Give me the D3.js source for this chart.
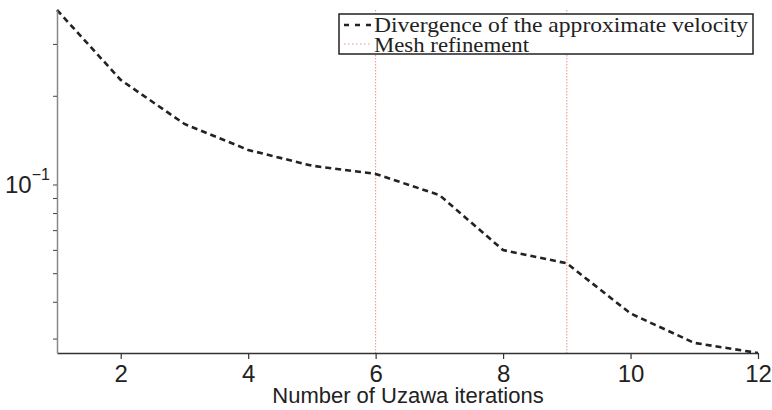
<!DOCTYPE html>
<html>
<head>
<meta charset="utf-8">
<script src="https://cdn.jsdelivr.net/npm/d3@7"></script>
<style>
  body { margin: 0; background: #fff; }
  svg { display: block; }
</style>
</head>
<body>
<div id="chart"></div>
<script>
// iterations and divergence values
const iterations = [1, 2, 3, 4, 5, 6, 7, 8, 9, 10, 11, 12];
const divergence = [0.391, 0.2264, 0.1605, 0.131, 0.1158, 0.1086, 0.0921, 0.0599, 0.054, 0.0365, 0.029, 0.0268];
const refinementIters = [6, 9];
const xTicks = [2, 4, 6, 8, 10, 12];
const yTicks = [0.03, 0.04, 0.05, 0.06, 0.07, 0.08, 0.09, 0.1, 0.2, 0.3];
const legendLabels = ["Divergence of the approximate velocity", "Mesh refinement"];

const width = 772, height = 410;
const margin = { top: 10, right: 14, bottom: 57, left: 57 };
const sans = "'Liberation Sans', Arial, Helvetica, sans-serif";
const serif = "'Liberation Serif', 'Times New Roman', serif";

const svg = d3.select("#chart").append("svg")
  .attr("width", width)
  .attr("height", height);

const x = d3.scaleLinear()
  .domain([1, 12])
  .range([margin.left, width - margin.right]);

const y = d3.scaleLog()
  .domain([d3.min(divergence), d3.max(divergence)])
  .range([height - margin.bottom, margin.top]);

// mesh refinement lines
svg.selectAll(".refine")
  .data(refinementIters)
  .enter()
  .append("line")
  .attr("class", "refine")
  .attr("x1", d => x(d)).attr("x2", d => x(d))
  .attr("y1", y.range()[1]).attr("y2", y.range()[0])
  .attr("stroke", "#ee8e8e")
  .attr("stroke-width", 1)
  .attr("stroke-dasharray", "1.5,1.5");

// divergence curve
const line = d3.line()
  .x((d, i) => x(iterations[i]))
  .y(d => y(d));

svg.append("path")
  .datum(divergence)
  .attr("d", line)
  .attr("fill", "none")
  .attr("stroke", "#222")
  .attr("stroke-width", 2.6)
  .attr("stroke-dasharray", "6,4");

// x axis
const xAxis = svg.append("g")
  .attr("transform", "translate(0," + (height - margin.bottom) + ")")
  .call(d3.axisBottom(x).tickValues(xTicks).tickSize(6).tickSizeOuter(0).tickPadding(6));
xAxis.select(".domain").attr("stroke", "#333").attr("stroke-width", 1.5);
xAxis.selectAll(".tick line").attr("stroke", "#333").attr("stroke-width", 1.2);
xAxis.selectAll("text")
  .attr("fill", "#222")
  .attr("font-family", sans)
  .attr("font-size", 24);

// y axis
const yAxis = svg.append("g")
  .attr("transform", "translate(" + margin.left + ",0)")
  .call(d3.axisLeft(y).tickValues(yTicks).tickSize(4).tickSizeOuter(0).tickFormat(""));
yAxis.select(".domain").attr("stroke", "#888").attr("stroke-width", 1.5);
yAxis.selectAll(".tick line").attr("stroke", "#444");

const lab = svg.append("text")
  .attr("x", 5)
  .attr("y", y(0.1) + 9)
  .attr("fill", "#222")
  .attr("font-family", sans)
  .attr("font-size", 24);
lab.append("tspan").text("10");
lab.append("tspan").attr("dy", -13).attr("font-size", 16).text("\u22121");

// x label
svg.append("text")
  .attr("x", 408)
  .attr("y", 403)
  .attr("text-anchor", "middle")
  .attr("fill", "#222")
  .attr("font-family", sans)
  .attr("font-size", 22)
  .text("Number of Uzawa iterations");

// legend
const legend = svg.append("g");
legend.append("rect")
  .attr("x", 339).attr("y", 14)
  .attr("width", 414).attr("height", 40)
  .attr("fill", "#fff")
  .attr("stroke", "#222")
  .attr("stroke-width", 1.5);

legend.append("line")
  .attr("x1", 344).attr("x2", 372)
  .attr("y1", 25).attr("y2", 25)
  .attr("stroke", "#222")
  .attr("stroke-width", 2.6)
  .attr("stroke-dasharray", "5,6");

legend.append("line")
  .attr("x1", 344).attr("x2", 370)
  .attr("y1", 44).attr("y2", 44)
  .attr("stroke", "#ee8e8e")
  .attr("stroke-width", 1)
  .attr("stroke-dasharray", "1.5,2.5");

legend.selectAll(".ltext")
  .data(legendLabels)
  .enter()
  .append("text")
  .attr("class", "ltext")
  .attr("x", 374)
  .attr("y", (d, i) => 32 + i * 20)
  .attr("fill", "#222")
  .attr("font-family", serif)
  .attr("font-size", 22)
  .attr("textLength", (d, i) => i === 0 ? 374 : 155)
  .attr("lengthAdjust", "spacingAndGlyphs")
  .text(d => d);
</script>
</body>
</html>
